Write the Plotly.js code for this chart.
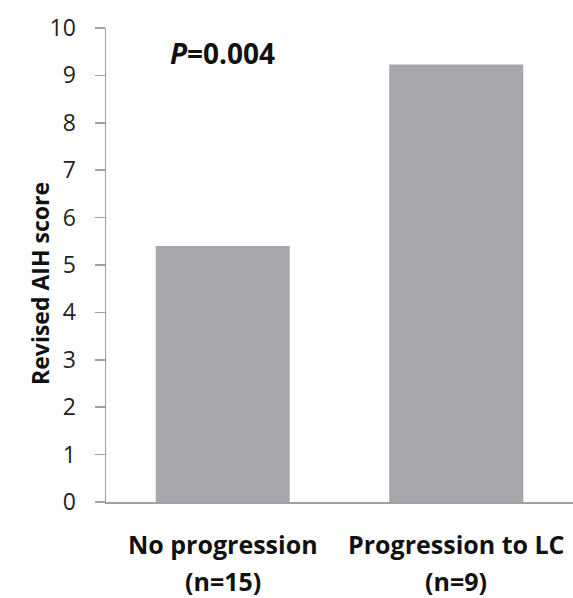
<!DOCTYPE html>
<html>
<head>
<meta charset="utf-8">
<script src="https://cdn.plot.ly/plotly-3.0.1.min.js"></script>
<style>html,body{margin:0;padding:0;background:#fff;}#chart{width:573px;height:598px;}</style>
</head>
<body>
<div id="chart"></div>
<script>
const categories = ["No progression", "Progression to LC"];
const groupSizes = ["(n=15)", "(n=9)"];
const scores = [5.4, 9.23];
const yTicks = [0,1,2,3,4,5,6,7,8,9,10];
const pValueText = "<i>P</i>=0.004";
const yTitle = "Revised AIH score";

const FONT = "Open Sans, Noto Sans, DejaVu Sans, sans-serif";
const annotations = [];
categories.forEach((c, i) => {
  annotations.push({x: c, xref: 'x', y: 0, yref: 'paper', yanchor: 'middle', yshift: -42,
    text: '<b>' + c + '</b>', showarrow: false, font: {family: FONT, size: 25, color: '#111'}});
  annotations.push({x: c, xref: 'x', y: 0, yref: 'paper', yanchor: 'middle', yshift: -79,
    text: '<b>' + groupSizes[i] + '</b>', showarrow: false, font: {family: FONT, size: 25, color: '#111'}});
});
annotations.push({x: categories[0], xref: 'x', y: 10, yref: 'y', yanchor: 'middle', yshift: -25,
  text: '<b>' + pValueText + '</b>', showarrow: false, font: {family: FONT, size: 28, color: '#111'}});
annotations.push({x: 0, xref: 'paper', xshift: -84, y: 0.46, yref: 'paper', textangle: -90,
  text: '<b>' + yTitle + '</b>', showarrow: false, font: {family: FONT, size: 23, color: '#111'}});

Plotly.newPlot('chart', [{
  type: 'bar', x: categories, y: scores,
  marker: {color: '#A6A7AB', line: {width: 0}},
  hoverinfo: 'none'
}], {
  width: 573, height: 598,
  margin: {l: 106, r: 0, t: 28, b: 96, pad: 0},
  paper_bgcolor: '#fff', plot_bgcolor: '#fff',
  bargap: 0.426,
  showlegend: false,
  xaxis: {showticklabels: false, ticks: '', showline: true, linecolor: '#A0A0A0', linewidth: 1.5,
          showgrid: false, zeroline: false, fixedrange: true},
  yaxis: {range: [0, 10], tickvals: yTicks, ticks: 'outside', ticklen: 10, tickcolor: '#A0A0A0', tickwidth: 1.5,
          showline: true, linecolor: '#A0A0A0', linewidth: 1.5, showgrid: false, zeroline: false,
          ticklabelstandoff: 14,
          tickfont: {family: FONT, size: 23, color: '#222'}},
  annotations: annotations
}, {staticPlot: true});
</script>
</body>
</html>
